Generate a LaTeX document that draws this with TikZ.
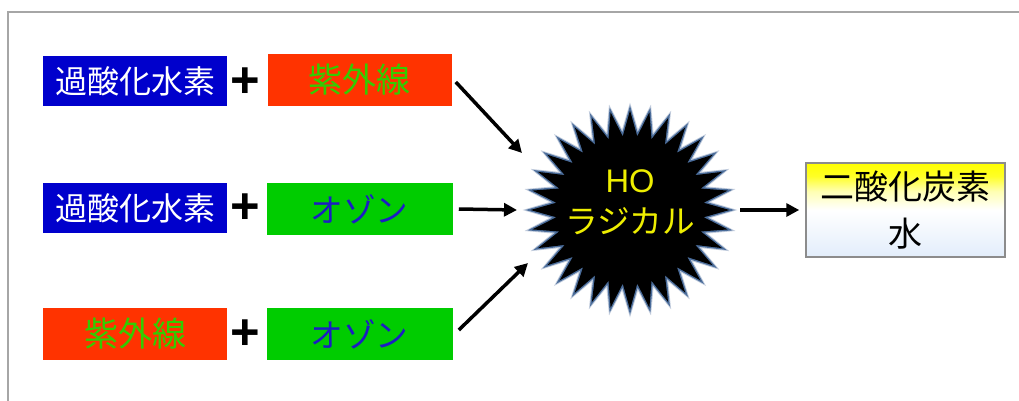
\documentclass[tikz,border=0pt]{standalone}
\usepackage{fontspec}
\setmainfont{Noto Sans CJK JP}
\newfontfamily\latinsans{Liberation Sans}
\usetikzlibrary{arrows.meta}
\definecolor{bluebox}{HTML}{0000CC}
\definecolor{redbox}{HTML}{FF3300}
\definecolor{greenbox}{HTML}{00CC00}
\definecolor{greentext}{HTML}{33CC00}
\definecolor{bluetext}{HTML}{1C1CC4}
\definecolor{startext}{HTML}{EEEE00}
\definecolor{starglow}{HTML}{4A6C9A}
\definecolor{framegray}{HTML}{A6A6A6}
\definecolor{lightblue}{HTML}{E2EDFB}
\definecolor{outborder}{HTML}{8C8C8C}
\pgfdeclareverticalshading{outshade}{100bp}{color(0bp)=(lightblue); color(25bp)=(lightblue); color(50bp)=(white); color(60bp)=(yellow!30); color(68bp)=(yellow!85); color(75bp)=(yellow); color(100bp)=(yellow)}
\def\u{0.75pt}
\tikzset{
  box/.style={draw=none, inner sep=0pt, minimum height={50*\u}, text width={184*\u}, align=center,
    font=\fontsize{24pt}{28pt}\selectfont},
  hbox/.style={box, fill=bluebox, text=white},
  ubox/.style={box, fill=redbox, text=greentext, minimum height={52*\u}, font=\fontsize{25.5pt}{28pt}\selectfont},
  obox/.style={box, fill=greenbox, text=bluetext, minimum height={52*\u}, text width={186*\u}, font=\fontsize{24.5pt}{28pt}\selectfont},
  plus/.style={inner sep=0pt, font=\latinsans\bfseries\fontsize{38pt}{38pt}\selectfont},
  arr/.style={line width={3.5*\u}, -{Triangle[length={13*\u}, width={13*\u}]}},
}
\begin{document}
\begin{tikzpicture}[x=0.75pt, y=-0.75pt]
\useasboundingbox (0,0) rectangle (1019,400);
% frame
\draw[framegray, line width={2*\u}] (8,410) -- (8,12) -- (1030,12);

% row 1
\node[hbox] (a1) at (135,81) {過酸化水素};
\node[plus] (p1) at (245,83) {+};
\node[ubox] (b1) at (359.5,80) {紫外線};
% row 2
\node[hbox] (a2) at (135,208) {過酸化水素};
\node[plus] (p2) at (245,209) {+};
\node[obox] (b2) at (359.5,209) {オゾン};
% row 3
\node[ubox] (a3) at (135,334) {紫外線};
\node[plus] (p3) at (245,335) {+};
\node[obox] (b3) at (359.5,334) {オゾン};

% star
\fill[starglow!35, shift={(630,210)}] (0:107.5)
  \foreach \i in {0,...,31} { -- ({\i*11.25}:107.5) -- ({\i*11.25+5.625}:81) } -- cycle;
\fill[starglow, shift={(630,210)}] (0:104.5)
  \foreach \i in {0,...,31} { -- ({\i*11.25}:104.5) -- ({\i*11.25+5.625}:78) } -- cycle;
\fill[black, shift={(630,210)}] (0:99.5)
  \foreach \i in {0,...,31} { -- ({\i*11.25}:99.5) -- ({\i*11.25+5.625}:74) } -- cycle;
\node[circle, minimum size={220*\u}, inner sep=0pt, text=startext, align=center,
  font=\fontsize{24.5pt}{31pt}\selectfont] (ho) at (630,202)
  {{\latinsans HO}\\ラジカル};

% output
\node[draw=outborder, line width={1.5*\u}, shading=outshade, inner sep=0pt,
  minimum width={199*\u}, minimum height={94*\u}, align=center,
  font=\fontsize{25.5pt}{35pt}\selectfont] (out) at (905.5,210) {二酸化炭素\\水};

% connectors
\coordinate (t1) at (522,153);
\coordinate (t2) at (517,210);
\coordinate (t3) at (528,263);
\coordinate (s4) at (740,210);
\draw[arr] ([xshift={4*\u}, yshift={-2*\u}]b1.east) -- (t1);
\draw[arr] ([xshift={6*\u}]b2.east) -- (t2);
\draw[arr] ([xshift={6*\u}, yshift={4*\u}]b3.east) -- (t3);
\draw[arr, shorten >= {6*\u}] (s4) -- (out.west);
\end{tikzpicture}
\end{document}
